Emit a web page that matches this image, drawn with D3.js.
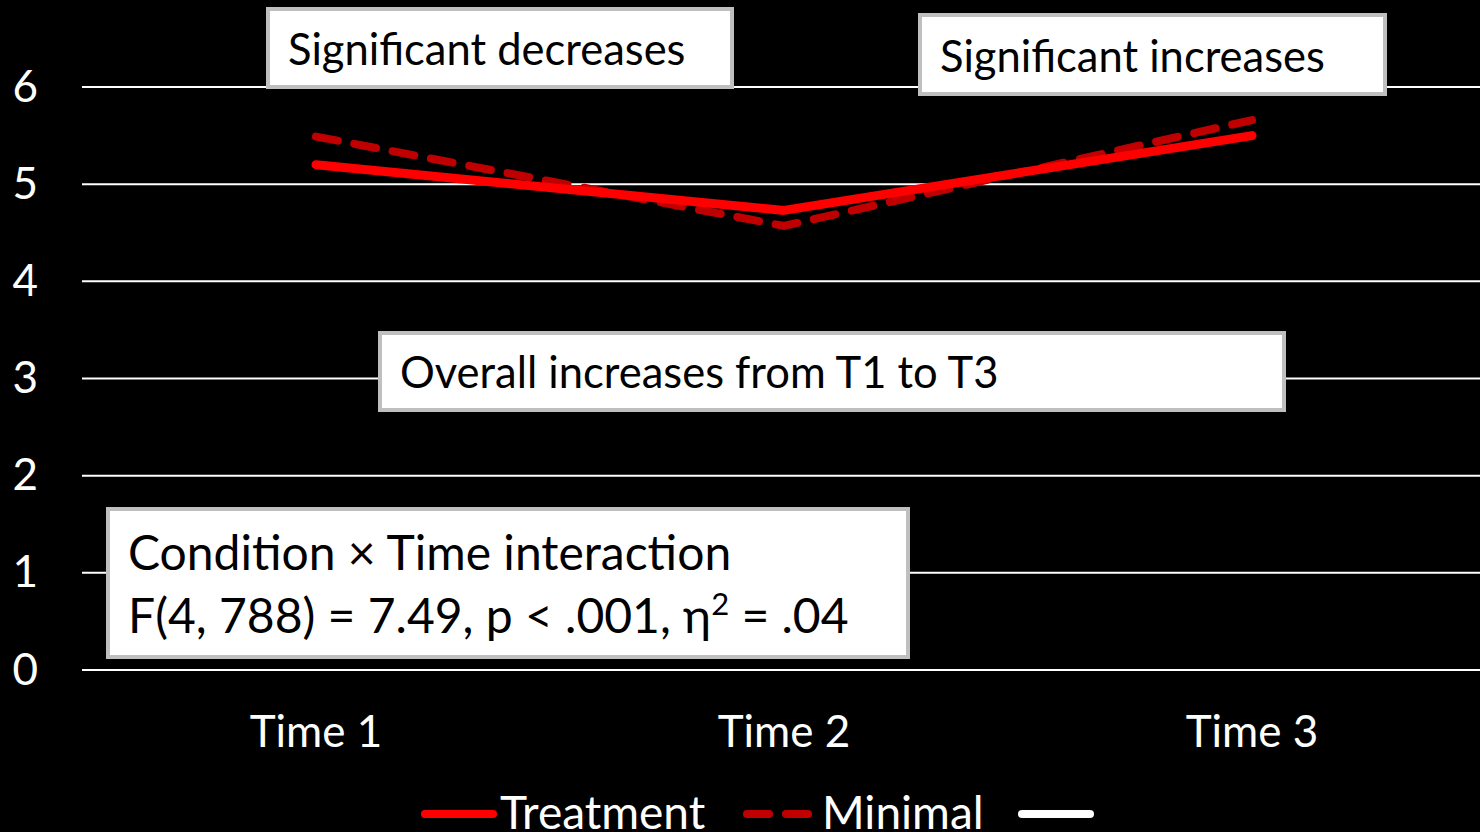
<!DOCTYPE html>
<html>
<head>
<meta charset="utf-8">
<script src="https://cdn.jsdelivr.net/npm/d3@7"></script>
<style>
  body { margin: 0; background: #000; }
  svg { display: block; font-family: Lato, "Open Sans", sans-serif; }
</style>
</head>
<body>
<div id="graph"></div>
<script>
const w = 1480;
const h = 832;

const times = ["Time 1", "Time 2", "Time 3"];
const treatment = [5.2, 4.73, 5.5];
const minimal = [5.49, 4.57, 5.66];
const yTicks = [0, 1, 2, 3, 4, 5, 6];

const xScale = d3.scaleBand().
domain(times).
range([82, 1486]);

const yScale = d3.scaleLinear().
domain([0, 6]).
range([670, 87]);

const svg = d3.select("#graph").
append("svg").
attr("width", w).
attr("height", h);

svg.append("rect").
attr("width", w).
attr("height", h).
attr("fill", "#000");

// gridlines
svg.selectAll(".grid").
data(yTicks).
enter().
append("line").
attr("x1", 82).
attr("x2", w).
attr("y1", d => yScale(d)).
attr("y2", d => yScale(d)).
attr("stroke", "#fff").
attr("stroke-width", 2);

const yAxis = d3.axisLeft(yScale).tickValues(yTicks).tickFormat(d3.format("d")).tickSize(0).tickPadding(0);
const gy = svg.append("g").
attr("transform", "translate(38,0)").
call(yAxis);
gy.select(".domain").remove();
gy.selectAll("text").
attr("fill", "#fff").
attr("font-size", 44).
attr("font-family", "Lato, sans-serif");

const xAxis = d3.axisBottom(xScale).tickSize(0).tickPadding(0);
const gx = svg.append("g").
attr("transform", "translate(0,716)").
call(xAxis);
gx.select(".domain").remove();
gx.selectAll("text").
attr("fill", "#fff").
attr("font-size", 44).
attr("font-family", "Lato, sans-serif");

const line = d3.line().
x((d, i) => xScale(times[i]) + xScale.bandwidth() / 2).
y(d => yScale(d));

svg.append("path").
datum(minimal).
attr("d", line).
attr("fill", "none").
attr("stroke", "#c00000").
attr("stroke-width", 8).
attr("stroke-linecap", "round").
attr("stroke-dasharray", "22,17");

svg.append("path").
datum(treatment).
attr("d", line).
attr("fill", "none").
attr("stroke", "#ff0000").
attr("stroke-width", 9).
attr("stroke-linecap", "round").
attr("stroke-linejoin", "round");

// annotation boxes
function note(x, y, bw, bh, lines, fs, lh) {
  svg.append("rect").
  attr("x", x).
  attr("y", y).
  attr("width", bw).
  attr("height", bh).
  attr("fill", "#fff").
  attr("stroke", "#bfbfbf").
  attr("stroke-width", 4);
  const t = svg.append("text").
  attr("fill", "#000").
  attr("font-size", fs);
  lines.forEach((l, i) => {
    t.append("tspan").
    attr("x", x + 20).
    attr("y", y + lh[i]).
    html(l);
  });
}

note(268, 9, 464, 78, ["Significant decreases"], 43.5, [56]);
note(920, 15, 465, 79, ["Significant increases"], 43.5, [57]);
note(380, 333, 904, 77, ["Overall increases from T1 to T3"], 43.5, [55]);
note(108, 509, 800, 148, ["Condition × Time interaction",
"F(4, 788) = 7.49, p &lt; .001, η<tspan dy='-18' font-size='31'>2</tspan><tspan dy='18'> = .04</tspan>"], 48, [61, 124]);

// legend
const legend = [
{ name: "Treatment", color: "#ff0000", dash: null, x: 425 },
{ name: "Minimal", color: "#c00000", dash: "22,17", x: 747 },
{ name: "", color: "#fff", dash: null, x: 1022 }];

legend.forEach(l => {
  svg.append("line").
  attr("x1", l.x).
  attr("x2", l.x + 68).
  attr("y1", 814).
  attr("y2", 814).
  attr("stroke", l.color).
  attr("stroke-width", 8).
  attr("stroke-linecap", "round").
  attr("stroke-dasharray", l.dash);
  svg.append("text").
  attr("x", l.x + 75).
  attr("y", 829).
  attr("fill", "#fff").
  attr("font-size", 46).
  text(l.name);
});
</script>
</body>
</html>
